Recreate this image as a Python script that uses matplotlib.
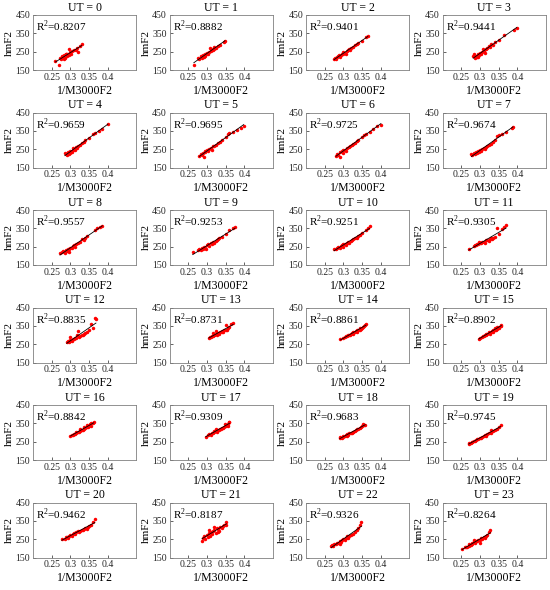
import numpy as np
import matplotlib
matplotlib.use('Agg')
import matplotlib.pyplot as plt

plt.rcParams['font.family'] = ['Liberation Serif', 'DejaVu Serif']
plt.rcParams['mathtext.fontset'] = 'custom'
plt.rcParams['mathtext.rm'] = 'Liberation Serif'

# estimated points per UT hour (1/M3000F2, hmF2)
x0 = [0.26,0.27,0.272,0.275,0.278,0.28,0.282,0.285,0.288,0.29,0.292,0.295,0.298,0.30,0.302,0.305,0.31,0.315,0.318,0.32,0.325,0.33,0.283,0.287,0.296]
y0 = [200,180,215,210,225,220,230,218,235,228,240,232,245,250,238,255,260,258,270,250,280,290,212,240,262]
x1 = [0.265,0.275,0.28,0.283,0.286,0.29,0.292,0.295,0.298,0.30,0.303,0.306,0.31,0.312,0.315,0.318,0.32,0.325,0.33,0.335,0.345,0.348,0.288,0.296,0.308]
y1 = [175,215,210,225,220,230,222,238,235,245,240,250,255,265,260,275,262,270,280,285,305,310,215,228,268]
x2 = [0.275,0.278,0.28,0.283,0.286,0.29,0.293,0.296,0.3,0.303,0.306,0.31,0.313,0.316,0.32,0.325,0.33,0.335,0.34,0.35,0.36,0.365,0.288,0.298,0.318]
y2 = [208,215,212,220,225,222,232,235,240,245,238,255,260,265,270,275,285,290,295,310,330,338,230,248,258]
x3 = [0.282,0.285,0.288,0.29,0.292,0.295,0.298,0.30,0.303,0.306,0.31,0.313,0.316,0.32,0.323,0.326,0.33,0.335,0.34,0.35,0.365,0.39,0.398,0.296,0.308]
y3 = [225,235,215,228,220,240,230,245,238,250,255,245,262,268,280,275,290,285,300,315,340,370,380,222,262]
x4 = [0.285,0.288,0.29,0.293,0.296,0.30,0.303,0.306,0.31,0.313,0.316,0.32,0.325,0.33,0.335,0.34,0.35,0.36,0.365,0.375,0.385,0.40,0.298,0.308,0.318]
y4 = [228,225,218,232,222,240,235,248,252,245,260,265,272,285,290,300,310,335,340,350,360,385,230,255,258]
x5 = [0.28,0.285,0.288,0.29,0.293,0.296,0.30,0.303,0.306,0.31,0.313,0.316,0.32,0.325,0.33,0.335,0.34,0.35,0.355,0.36,0.37,0.38,0.39,0.398,0.295]
y5 = [215,225,220,230,210,238,245,240,252,255,248,265,270,272,285,290,300,315,335,340,345,355,365,378,232]
x6 = [0.28,0.283,0.286,0.29,0.292,0.295,0.298,0.30,0.303,0.306,0.31,0.314,0.318,0.322,0.326,0.33,0.335,0.34,0.35,0.355,0.36,0.37,0.38,0.39,0.40]
y6 = [215,225,220,210,232,238,230,245,248,240,255,262,270,272,280,285,295,300,318,330,335,345,360,375,382]
x7 = [0.277,0.28,0.285,0.288,0.29,0.293,0.296,0.30,0.303,0.306,0.31,0.313,0.316,0.32,0.325,0.33,0.335,0.34,0.345,0.35,0.36,0.37,0.385,0.388,0.298]
y7 = [222,218,230,225,235,228,240,245,238,252,255,250,262,268,275,280,290,300,320,325,335,345,368,372,232]
x8 = [0.272,0.277,0.28,0.285,0.288,0.29,0.293,0.296,0.30,0.303,0.306,0.31,0.313,0.316,0.32,0.325,0.33,0.335,0.34,0.345,0.365,0.372,0.38,0.385,0.295]
y8 = [215,220,225,218,232,228,240,235,245,242,252,258,250,265,270,275,290,285,300,310,340,350,360,365,222]
x9 = [0.262,0.275,0.28,0.283,0.286,0.29,0.293,0.296,0.30,0.303,0.306,0.31,0.313,0.316,0.32,0.323,0.326,0.33,0.333,0.34,0.35,0.36,0.37,0.375,0.298]
y9 = [220,230,238,232,245,240,250,242,258,262,255,270,265,275,268,280,285,290,300,305,320,340,350,358,235]
x10 = [0.275,0.28,0.283,0.286,0.29,0.293,0.296,0.30,0.303,0.306,0.31,0.313,0.316,0.32,0.323,0.326,0.33,0.335,0.34,0.345,0.35,0.36,0.365,0.37,0.298]
y10 = [240,235,245,250,242,255,258,262,265,260,272,275,268,282,285,290,295,300,310,315,325,340,350,362,248]
x11 = [0.27,0.285,0.288,0.29,0.293,0.296,0.30,0.303,0.306,0.31,0.313,0.316,0.32,0.323,0.326,0.33,0.333,0.336,0.34,0.345,0.35,0.36,0.365,0.37,0.298]
y11 = [238,255,260,258,265,262,270,268,275,278,272,285,288,282,292,295,290,300,305,350,320,345,355,368,275]
x12 = [0.29,0.293,0.296,0.298,0.30,0.303,0.306,0.31,0.313,0.316,0.32,0.323,0.326,0.33,0.333,0.336,0.34,0.345,0.35,0.355,0.36,0.365,0.368,0.30,0.318]
y12 = [260,265,262,270,275,268,280,278,285,282,320,288,295,298,302,305,310,318,330,360,340,395,385,290,300]
x13 = [0.305,0.308,0.31,0.313,0.316,0.318,0.32,0.323,0.326,0.33,0.333,0.336,0.34,0.343,0.346,0.35,0.353,0.356,0.36,0.365,0.37,0.315,0.325,0.35,0.34]
y13 = [282,290,288,295,292,300,298,305,302,310,308,315,320,318,325,330,328,340,345,360,368,310,320,352,315]
x14 = [0.292,0.30,0.305,0.308,0.31,0.313,0.316,0.32,0.323,0.326,0.33,0.333,0.336,0.34,0.343,0.346,0.35,0.352,0.355,0.358,0.36,0.325,0.335,0.345,0.318]
y14 = [278,285,290,295,292,300,298,305,310,308,315,320,318,325,330,335,340,345,350,355,362,315,328,338,302]
x15 = [0.297,0.30,0.305,0.308,0.31,0.313,0.316,0.32,0.323,0.326,0.33,0.333,0.336,0.34,0.343,0.346,0.35,0.352,0.355,0.357,0.335,0.345,0.325,0.34,0.315]
y15 = [280,282,288,292,295,298,300,305,310,308,315,320,318,325,330,335,340,345,350,355,330,345,318,340,305]
x16 = [0.30,0.303,0.306,0.31,0.313,0.316,0.32,0.323,0.326,0.33,0.333,0.336,0.34,0.343,0.346,0.35,0.353,0.356,0.36,0.362,0.335,0.345,0.325,0.315,0.355]
y16 = [282,285,288,292,290,298,302,305,310,312,315,320,322,328,332,338,345,350,352,355,330,340,320,305,335]
x17 = [0.297,0.303,0.306,0.31,0.313,0.316,0.32,0.323,0.326,0.33,0.333,0.336,0.34,0.343,0.346,0.35,0.353,0.356,0.358,0.36,0.318,0.325,0.338,0.348,0.355]
y17 = [278,285,290,288,295,300,302,310,305,315,312,320,325,322,330,335,340,348,355,358,310,318,320,345,338]
x18 = [0.29,0.292,0.295,0.298,0.30,0.303,0.306,0.31,0.313,0.316,0.32,0.323,0.326,0.33,0.333,0.336,0.34,0.343,0.346,0.35,0.352,0.355,0.358,0.31,0.325]
y18 = [268,275,272,278,280,282,285,290,288,295,298,300,305,310,312,318,320,325,330,335,345,340,342,282,302]
x19 = [0.27,0.272,0.275,0.278,0.28,0.283,0.286,0.29,0.293,0.296,0.30,0.303,0.306,0.31,0.313,0.316,0.32,0.325,0.33,0.335,0.34,0.345,0.35,0.355,0.33]
y19 = [238,245,242,248,250,255,252,258,262,265,270,272,278,280,285,282,290,295,300,308,312,318,330,342,315]
x20 = [0.277,0.285,0.288,0.29,0.293,0.296,0.30,0.303,0.306,0.31,0.313,0.316,0.32,0.323,0.326,0.33,0.333,0.336,0.34,0.343,0.346,0.35,0.355,0.36,0.365]
y20 = [250,252,260,262,258,268,272,270,278,282,280,288,292,290,295,300,298,305,310,308,315,322,330,345,358]
x21 = [0.287,0.29,0.293,0.296,0.30,0.302,0.305,0.308,0.31,0.313,0.316,0.32,0.323,0.326,0.33,0.333,0.336,0.34,0.343,0.346,0.35,0.352,0.305,0.32,0.33]
y21 = [240,255,265,250,275,260,285,270,290,280,295,300,285,310,305,295,315,310,320,325,330,345,300,315,290]
x22 = [0.267,0.27,0.273,0.276,0.28,0.283,0.286,0.29,0.293,0.296,0.30,0.303,0.306,0.31,0.313,0.316,0.32,0.325,0.33,0.335,0.34,0.345,0.348,0.29,0.31]
y22 = [215,220,212,225,222,230,228,240,235,248,250,245,258,262,255,268,272,280,290,300,310,330,342,225,270]
x23 = [0.252,0.26,0.263,0.266,0.27,0.272,0.275,0.278,0.28,0.283,0.286,0.29,0.293,0.296,0.30,0.303,0.306,0.31,0.313,0.316,0.32,0.325,0.328,0.285,0.3]
y23 = [195,205,210,208,215,222,218,228,225,235,230,240,238,248,245,255,252,262,258,270,275,290,302,245,230]

r2 = ['0.8207','0.8882','0.9401','0.9441','0.9659','0.9695','0.9725','0.9674',
      '0.9557','0.9253','0.9251','0.9305','0.8835','0.8731','0.8861','0.8902',
      '0.8842','0.9309','0.9683','0.9745','0.9462','0.8187','0.9326','0.8264']
xticks = [0.25, 0.3, 0.35, 0.4]
xtick_labels = ['0.25', '0.3', '0.35', '0.4']
yticks = [150, 250, 350, 450]

xs = [x0,x1,x2,x3,x4,x5,x6,x7,x8,x9,x10,x11,x12,x13,x14,x15,x16,x17,x18,x19,x20,x21,x22,x23]
ys = [y0,y1,y2,y3,y4,y5,y6,y7,y8,y9,y10,y11,y12,y13,y14,y15,y16,y17,y18,y19,y20,y21,y22,y23]

W, H = 550, 590
fig = plt.figure(figsize=(W/100, H/100), dpi=100)
fs = 7
frame = '#808080'

for i in range(24):
    r, c = divmod(i, 4)
    left = 33 + 136.5*c
    top = 15 + 97.5*r
    ax = fig.add_axes([left/W, 1-(top+55)/H, 103/W, 55/H])
    x = np.array(xs[i]); y = np.array(ys[i])
    p = np.polyfit(x, y, 1)
    xl = np.array([x.min(), x.max()])
    ax.plot(x, y, '.', color='red', ms=5, mew=0)
    ax.plot(xl, np.polyval(p, xl), color='black', lw=0.6)
    ax.set_xlim(0.2, 0.475)
    ax.set_ylim(150, 450)
    ax.set_xticks(xticks)
    ax.set_xticklabels(xtick_labels)
    ax.set_yticks(yticks)
    ax.tick_params(direction='in', length=2, width=0.5, labelsize=fs, pad=2, colors='#262626')
    for s in ax.spines.values():
        s.set_color(frame); s.set_linewidth(0.6)
    ax.set_title('UT = %d' % i, fontsize=8.5, pad=3)
    ax.set_xlabel('1/M3000F2', fontsize=8.5, labelpad=2)
    ax.set_ylabel('hmF2', fontsize=8, va='center')
    ax.yaxis.set_label_coords(-0.225, 0.5)
    ax.text(0.03, 0.93, 'R$^2$=' + r2[i], transform=ax.transAxes, fontsize=8, va='top', ha='left')

fig.savefig('out.png', dpi=100)
